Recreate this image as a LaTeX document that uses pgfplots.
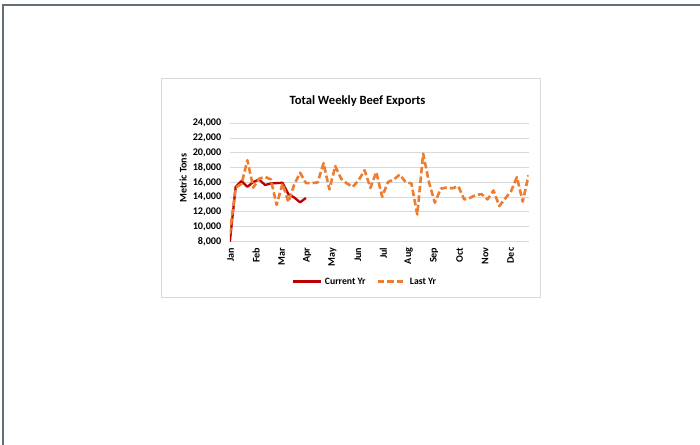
\documentclass[border=0pt]{standalone}
\usepackage{fontspec}
\setmainfont{Carlito}
\usepackage{pgfplots}
\pgfplotsset{compat=1.18}
\definecolor{frameclr}{HTML}{626E79}
\definecolor{gridclr}{HTML}{D9D9D9}
\definecolor{curclr}{HTML}{C00000}
\definecolor{lastclr}{HTML}{ED7D31}
\begin{document}
\begin{tikzpicture}[x=1bp,y=1bp]
\useasboundingbox[fill=white] (0,0) rectangle (700,445);
\draw[frameclr, line width=2bp] (3.2,0) -- (3.2,440) -- (700,440);
\draw[gridclr, line width=1bp] (161,147.5) rectangle (540.5,366);
\node[anchor=base, inner sep=0pt, font=\fontsize{12.6bp}{14bp}\selectfont\bfseries] at (357.5,340.7) {Total Weekly Beef Exports};
\node[rotate=90, inner sep=0pt, font=\fontsize{10.1bp}{12bp}\selectfont\bfseries] at (183,266.7) {Metric Tons};
\begin{axis}[
  at={(229.8bp,203.5bp)}, anchor=south west,
  scale only axis, width=298.8bp, height=118.2bp,
  xmin=1, xmax=52, ymin=8000, ymax=24000,
  axis line style={draw=none},
  major tick length=0pt,
  ymajorgrids,
  major grid style={gridclr, line width=1bp},
  ytick={8000,10000,12000,14000,16000,18000,20000,22000,24000},
  scaled y ticks=false,
  /pgf/number format/fixed,
  /pgf/number format/1000 sep={,},
  /pgf/number format/assume math mode=true,
  yticklabel style={anchor=east, inner xsep=8.3bp, font=\fontsize{10.2bp}{11bp}\selectfont\bfseries},
  xtick={1.15,5.49,9.84,14.18,18.52,22.87,27.21,31.55,35.89,40.24,44.58,48.92},
  xticklabels={Jan,Feb,Mar,Apr,May,Jun,Jul,Aug,Sep,Oct,Nov,Dec},
  xticklabel style={rotate=90, anchor=east, inner xsep=6bp, font=\fontsize{10.1bp}{11bp}\selectfont\bfseries},
  legend columns=2,
  legend style={draw=none, fill=none, inner sep=0pt, at={(0.2072,-0.3426)}, anchor=west,
    cells={anchor=base west}, nodes={inner sep=0pt},
    font=\fontsize{9.7bp}{11bp}\selectfont\bfseries,
    /tikz/every odd column/.append style={column sep=2.7bp},
    /tikz/every even column/.append style={column sep=11bp}},
  legend image code/.code={\draw[#1] (0bp,3bp) -- (28bp,3bp);},
]
\addplot[curclr, line width=2.3bp, line join=round] coordinates {
(1,7900) (2,15400) (3,16200) (4,15400) (5,16050) (6,16400) (7,15650) (8,15850)
(9,15900) (10,15950) (11,14400) (12,13950) (13,13300) (14,13900)
};
\addlegendentry{Current Yr}
\addplot[lastclr, line width=2.6bp, line join=round, dash pattern=on 6.5bp off 3bp] coordinates {
(1,9000) (2,15300) (3,15800) (4,19000) (5,15300) (6,16500) (7,16750) (8,16400)
(9,12950) (10,15850) (11,13350) (12,15700) (13,17300) (14,15900) (15,15900) (16,16000)
(17,18600) (18,15050) (19,18200) (20,16500) (21,15850) (22,15400) (23,16300) (24,17650)
(25,15250) (26,17400) (27,14050) (28,16050) (29,16400) (30,17050) (31,16050) (32,15850)
(33,11650) (34,19900) (35,16000) (36,13250) (37,15150) (38,15300) (39,15200) (40,15500)
(41,13700) (42,13900) (43,14300) (44,14400) (45,13700) (46,14900) (47,12800) (48,13800)
(49,14800) (50,16700) (51,13400) (52,17000)
};
\addlegendentry{Last Yr}
\end{axis}
\end{tikzpicture}
\end{document}
